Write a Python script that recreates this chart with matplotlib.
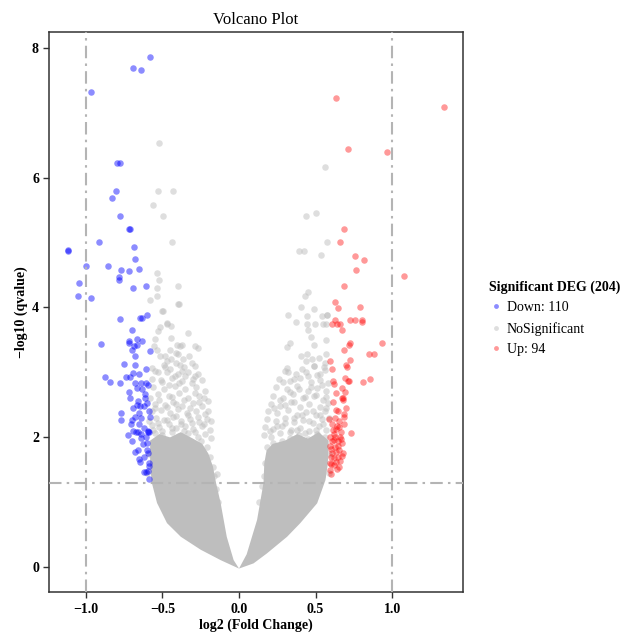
import matplotlib
matplotlib.use('Agg')
import matplotlib.pyplot as plt
from matplotlib.lines import Line2D

plt.rcParams['font.family'] = ['Liberation Serif', 'DejaVu Serif']

# significant down-regulated genes (log2FC, -log10 q)
down_x = [-0.584, -0.693, -0.637, -0.965, -0.793, -0.776, -0.800, -0.826, -0.776, -0.715,
          -0.712, -0.915, -1.116, -1.114, -0.684, -0.680, -0.852, -0.996, -0.767, -0.715,
          -0.650, -0.780, -0.782, -1.046, -0.689, -0.608, -1.052, -0.967, -0.778, -0.645,
          -0.632, -0.601, -0.700, -0.898, -0.715, -0.715, -0.665, -0.634, -0.684, -0.663,
          -0.584, -0.682, -0.750, -0.678, -0.872, -0.843, -0.776, -0.737, -0.714, -0.693,
          -0.654, -0.676, -0.641, -0.606, -0.597, -0.667, -0.717, -0.614, -0.599, -0.660,
          -0.667, -0.621, -0.645, -0.771, -0.650, -0.584, -0.767, -0.678, -0.702, -0.652,
          -0.697, -0.725, -0.695, -0.658, -0.637, -0.604, -0.597, -0.588, -0.592, -0.639,
          -0.669, -0.628, -0.678, -0.658, -0.601, -0.597, -0.654, -0.643, -0.588, -0.586,
          -0.610, -0.595, -0.617, -0.586, -0.710, -0.690, -0.640, -0.620, -0.700, -0.620,
          -0.600, -0.590, -0.615, -0.630, -0.605, -0.700]
down_y = [7.85, 7.69, 7.65, 7.32, 6.23, 6.23, 5.80, 5.68, 5.41, 5.21,
          5.21, 5.01, 4.87, 4.88, 4.93, 4.75, 4.64, 4.64, 4.57, 4.56,
          4.59, 4.47, 4.42, 4.37, 4.30, 4.33, 4.18, 4.15, 3.82, 3.83,
          3.83, 3.88, 3.65, 3.43, 3.49, 3.46, 3.51, 3.49, 3.40, 3.42,
          3.33, 3.26, 3.13, 3.12, 2.93, 2.85, 2.83, 2.93, 2.93, 2.99,
          2.97, 2.83, 2.84, 2.83, 2.81, 2.76, 2.70, 2.66, 2.53, 2.56,
          2.50, 2.48, 2.49, 2.37, 2.37, 2.31, 2.26, 2.32, 2.21, 2.20,
          2.26, 2.03, 2.10, 2.08, 2.05, 2.01, 2.09, 2.08, 2.10, 1.99,
          2.08, 1.90, 1.78, 1.80, 1.81, 1.76, 1.66, 1.62, 1.61, 1.56,
          1.47, 1.48, 1.47, 1.36, 2.60, 2.45, 2.30, 2.15, 1.95, 1.70,
          1.92, 2.40, 2.60, 2.75, 3.05, 3.35]

# significant up-regulated genes
up_x = [0.634, 1.340, 0.712, 0.965, 0.686, 0.660, 0.756, 0.817, 0.765, 1.074,
        0.684, 0.629, 0.645, 0.788, 0.627, 0.658, 0.605, 0.640, 0.727, 0.754,
        0.800, 0.805, 0.673, 0.727, 0.719, 0.686, 0.930, 0.847, 0.884, 0.597,
        0.723, 0.701, 0.708, 0.608, 0.693, 0.714, 0.721, 0.810, 0.852, 0.612,
        0.623, 0.671, 0.631, 0.671, 0.677, 0.680, 0.614, 0.634, 0.684, 0.686,
        0.588, 0.686, 0.640, 0.651, 0.634, 0.667, 0.734, 0.595, 0.629, 0.658,
        0.618, 0.644, 0.675, 0.597, 0.625, 0.647, 0.680, 0.610, 0.636, 0.644,
        0.618, 0.592, 0.603, 0.662, 0.601, 0.620, 0.655, 0.600, 0.630, 0.612,
        0.650, 0.605, 0.640, 0.595, 0.665, 0.625, 0.700, 0.610, 0.690, 0.655,
        0.600, 0.670, 0.620, 0.645]
up_y = [7.23, 7.08, 6.44, 6.39, 5.20, 5.00, 4.79, 4.73, 4.58, 4.49,
        4.33, 4.08, 3.99, 4.00, 3.80, 3.75, 3.74, 3.74, 3.80, 3.80,
        3.78, 3.80, 3.65, 3.45, 3.42, 3.34, 3.45, 3.28, 3.28, 3.18,
        3.19, 3.11, 3.08, 3.06, 2.91, 2.86, 2.86, 2.85, 2.90, 2.87,
        2.82, 2.76, 2.68, 2.60, 2.58, 2.61, 2.55, 2.42, 2.36, 2.31,
        2.29, 2.21, 2.18, 2.16, 2.13, 2.09, 2.07, 2.01, 2.01, 2.01,
        1.96, 1.94, 1.91, 1.86, 1.85, 1.87, 1.76, 1.76, 1.78, 1.69,
        1.68, 1.61, 1.59, 1.64, 1.44, 2.05, 1.80, 1.70, 1.62, 2.12,
        2.25, 1.95, 1.52, 1.50, 1.98, 2.30, 2.45, 2.20, 2.70, 1.55,
        1.82, 1.72, 1.58, 2.40]

# non-significant genes (the scattered ones)
ns_x = [-0.519, -0.527, -0.429, -0.562, -0.499, -0.440, -0.532, -0.521, -0.534, -0.401,
        -0.532, -0.578, -0.390, -0.501, -0.493, -0.471, -0.444, -0.333, -0.529, -0.442,
        -0.545, -0.405, -0.384, -0.369, -0.284, -0.266, -0.516, -0.556, -0.536, -0.451,
        -0.412, -0.397, -0.327, -0.514, -0.482, -0.444, -0.366, -0.473, -0.571, -0.482,
        -0.388, -0.359, -0.286, -0.395, -0.471,
        0.564, 0.435, 0.500, 0.392, 0.425, 0.536, 0.573, 0.575, 0.451, 0.429,
        0.492, 0.403, 0.320, 0.370, 0.444, 0.499, 0.546, 0.569, 0.575, 0.542,
        0.453, 0.444, 0.468, 0.488, 0.569, 0.331, 0.316, 0.403, 0.444, 0.479,
        0.520, 0.566, 0.440, 0.490, 0.553, 0.314,
        -0.55, -0.47, -0.40, -0.33, -0.29, -0.57, -0.51, -0.44, -0.37, -0.31,
        -0.24, -0.56, -0.49, -0.42, -0.35, -0.28, -0.22, -0.53, -0.46, -0.39,
        -0.33, -0.26, -0.58, -0.55, -0.48, -0.43, -0.37, -0.30, -0.24, -0.20,
        -0.57, -0.51, -0.45, -0.40, -0.34, -0.28, -0.22, -0.54, -0.49, -0.43,
        -0.38, -0.32, -0.26, -0.21, -0.57, -0.52, -0.46, -0.41, -0.35, -0.30,
        -0.24, -0.19, -0.55, -0.50, -0.44, -0.39, -0.33, -0.27, -0.22, -0.18,
        0.30, 0.37, 0.44, 0.51, 0.56, 0.26, 0.33, 0.40, 0.47, 0.53,
        0.58, 0.24, 0.31, 0.38, 0.45, 0.51, 0.57, 0.22, 0.29, 0.35,
        0.42, 0.49, 0.55, 0.21, 0.27, 0.34, 0.40, 0.46, 0.53, 0.58,
        0.19, 0.25, 0.32, 0.38, 0.44, 0.50, 0.56, 0.18, 0.24, 0.30,
        0.36, 0.42, 0.48, 0.54, 0.17, 0.22, 0.28, 0.34, 0.40, 0.46,
        0.52, 0.57, 0.16, 0.21, 0.27, 0.33, 0.39, 0.45, 0.51, 0.56,
        -0.144, 0.540,
        -0.56, -0.53, -0.50, -0.47, -0.44, -0.41, -0.38, -0.36, -0.33, -0.31,
        -0.29, -0.27, -0.25, -0.23, -0.21, -0.20, -0.19, -0.18, -0.17, -0.55,
        -0.52, -0.47, -0.44, -0.41, -0.36, -0.32, -0.29, -0.26, -0.23, -0.50,
        -0.46, -0.42, -0.39, -0.35, -0.30, -0.27, -0.53, -0.49, -0.45, -0.41,
        -0.37, -0.31, -0.59, -0.60, -0.59, -0.16, -0.15, -0.14,
        0.18, 0.20, 0.22, 0.25, 0.28, 0.30, 0.33, 0.36, 0.38, 0.41,
        0.43, 0.46, 0.48, 0.50, 0.53, 0.55, 0.57, 0.59, 0.17, 0.16,
        0.23, 0.27, 0.30, 0.33, 0.36, 0.39, 0.43, 0.47, 0.50, 0.54,
        0.57, 0.29, 0.32, 0.36, 0.41, 0.45, 0.49, 0.53, 0.56, 0.59,
        0.59, 0.15, 0.13]
ns_y = [6.53, 5.79, 5.79, 5.57, 5.41, 5.01, 4.53, 4.42, 4.30, 4.33,
        4.18, 4.11, 4.05, 3.95, 3.95, 3.75, 3.72, 3.61, 3.63, 3.53,
        3.51, 3.42, 3.41, 3.42, 3.41, 3.38, 3.70, 3.41, 3.34, 3.34,
        3.30, 3.28, 3.25, 3.25, 3.25, 3.20, 3.21, 3.18, 3.07, 3.08,
        3.11, 3.08, 3.10, 4.06, 3.76,
        6.16, 5.41, 5.45, 4.87, 4.87, 4.81, 5.01, 3.88, 4.23, 4.18,
        3.98, 4.00, 3.88, 3.78, 3.87, 3.75, 3.75, 3.75, 3.88, 3.87,
        3.65, 3.75, 3.55, 3.42, 3.50, 3.46, 3.39, 3.25, 3.28, 3.20,
        3.22, 3.29, 3.17, 3.10, 3.09, 3.07,
        3.02, 3.00, 2.98, 3.01, 2.95, 2.90, 2.88, 2.92, 2.86, 2.84,
        2.88, 2.78, 2.75, 2.79, 2.74, 2.77, 2.72, 2.66, 2.63, 2.68,
        2.61, 2.64, 2.60, 2.52, 2.50, 2.55, 2.48, 2.53, 2.49, 2.56,
        2.40, 2.42, 2.38, 2.43, 2.37, 2.41, 2.36, 2.30, 2.27, 2.31,
        2.25, 2.29, 2.24, 2.28, 2.19, 2.16, 2.20, 2.14, 2.18, 2.13,
        2.17, 2.12, 2.07, 2.04, 2.08, 2.02, 2.06, 2.01, 2.05, 1.99,
        3.02, 2.98, 3.01, 2.96, 3.03, 2.90, 2.87, 2.91, 2.85, 2.89,
        2.84, 2.77, 2.74, 2.79, 2.72, 2.76, 2.71, 2.64, 2.61, 2.66,
        2.60, 2.63, 2.58, 2.52, 2.49, 2.54, 2.47, 2.51, 2.46, 2.53,
        2.40, 2.37, 2.42, 2.35, 2.39, 2.34, 2.41, 2.28, 2.25, 2.30,
        2.23, 2.27, 2.22, 2.29, 2.16, 2.13, 2.18, 2.11, 2.15, 2.10,
        2.17, 2.12, 2.04, 2.01, 2.06, 1.99, 2.03, 1.98, 2.05, 2.00,
        1.43, 1.40,
        2.12, 2.22, 2.10, 2.27, 2.15, 2.33, 2.20, 2.10, 2.35, 2.22,
        2.08, 2.32, 1.95, 2.20, 1.85, 2.40, 1.70, 2.25, 1.55, 2.45,
        2.58, 2.47, 2.62, 2.52, 2.58, 2.45, 2.68, 2.55, 2.60, 2.85,
        2.80, 2.95, 2.83, 2.95, 2.90, 2.97, 3.00, 3.12, 3.05, 3.15,
        3.02, 3.15, 1.75, 1.45, 2.25, 1.40, 1.20, 1.00,
        1.85, 2.10, 1.92, 2.18, 1.95, 2.22, 2.08, 2.30, 2.12, 2.35,
        2.07, 2.25, 2.40, 2.12, 2.35, 2.20, 2.45, 2.30, 1.60, 1.40,
        2.45, 2.58, 2.50, 2.70, 2.55, 2.75, 2.62, 2.78, 2.65, 2.80,
        2.62, 2.85, 3.00, 2.90, 3.05, 2.95, 3.10, 2.98, 3.15, 1.75,
        1.45, 1.25, 1.00]

# outline of the saturated (overplotted) part of the non-significant cloud
left_cloud_x = [0.0, -0.12, -0.25, -0.38, -0.47, -0.535, -0.57, -0.58, -0.58,
                -0.52, -0.45, -0.38, -0.30, -0.24, -0.20, -0.17, -0.15, -0.12,
                -0.08, -0.035, 0.0]
left_cloud_y = [-0.02, 0.11, 0.27, 0.47, 0.68, 0.99, 1.31, 1.60, 1.95,
                2.05, 2.00, 2.08, 1.98, 1.90, 1.75, 1.55, 1.30, 0.99,
                0.47, 0.11, -0.02]
right_cloud_x = [0.0, 0.095, 0.183, 0.314, 0.40, 0.51, 0.564, 0.58, 0.585,
                 0.52, 0.45, 0.38, 0.30, 0.22, 0.18, 0.165, 0.16, 0.118,
                 0.05, 0.0]
right_cloud_y = [-0.02, 0.06, 0.215, 0.47, 0.68, 0.985, 1.34, 1.60, 1.95,
                 2.08, 1.98, 2.05, 1.95, 1.90, 1.80, 1.60, 1.30, 0.73,
                 0.20, -0.02]

fc_cut = [-1.0, 1.0]
q_cut = 1.3

xticks = [-1.0, -0.5, 0.0, 0.5, 1.0]
yticks = [0, 2, 4, 6, 8]

grey = '#bebebe'

fig = plt.figure(figsize=(6.29, 6.34), dpi=100)
ax = fig.add_axes([0.0784, 0.0658, 0.657, 0.8837])

ax.fill(left_cloud_x, left_cloud_y, color=grey, lw=0, zorder=1)
ax.fill(right_cloud_x, right_cloud_y, color=grey, lw=0, zorder=1)
ax.scatter(ns_x, ns_y, s=22, color=grey, alpha=0.5, lw=0, zorder=2)
ax.scatter(down_x, down_y, s=22, color='blue', alpha=0.45, lw=0, zorder=3)
ax.scatter(up_x, up_y, s=22, color='red', alpha=0.4, lw=0, zorder=3)

ls = (0, (6, 2.5, 1.2, 2.5))
for v in fc_cut:
    ax.axvline(v, color='#b4b4b4', lw=1.5, ls=ls, zorder=4)
ax.axhline(q_cut, color='#b4b4b4', lw=1.5, ls=ls, zorder=4)

ax.set_xlim(-1.238, 1.459)
ax.set_ylim(-0.385, 8.24)
ax.set_xticks(xticks)
ax.set_xticklabels([f'{t:.1f}'.replace('-', '\u2212') for t in xticks])
ax.set_yticks(yticks)
ax.tick_params(direction='out', length=4, width=1, color='#333333', labelsize=10)
for lab in ax.get_xticklabels() + ax.get_yticklabels():
    lab.set_fontweight('bold')
for sp in ax.spines.values():
    sp.set_color('#333333')
    sp.set_linewidth(1.1)

ax.set_title('Volcano Plot', fontsize=12, pad=6)
ax.set_xlabel('log2 (Fold Change)', fontsize=10, fontweight='bold', labelpad=2)
ax.set_ylabel('\u2212log10 (qvalue)', fontsize=10, fontweight='bold', labelpad=3)

handles = [
    Line2D([], [], marker='o', ls='', color='blue', alpha=0.45, markersize=3.5, mew=0),
    Line2D([], [], marker='o', ls='', color=grey, alpha=0.5, markersize=3.5, mew=0),
    Line2D([], [], marker='o', ls='', color='red', alpha=0.4, markersize=3.5, mew=0),
]
leg = fig.legend(handles, ['Down: 110', 'NoSignificant', 'Up: 94'],
                 title='Significant DEG (204)', loc='upper left',
                 bbox_to_anchor=(0.757, 0.578), frameon=False, fontsize=10,
                 title_fontsize=10, handletextpad=0.3, labelspacing=0.55,
                 alignment='left', handlelength=1.0)
leg.get_title().set_fontweight('bold')

fig.savefig('out.png', dpi=100)
